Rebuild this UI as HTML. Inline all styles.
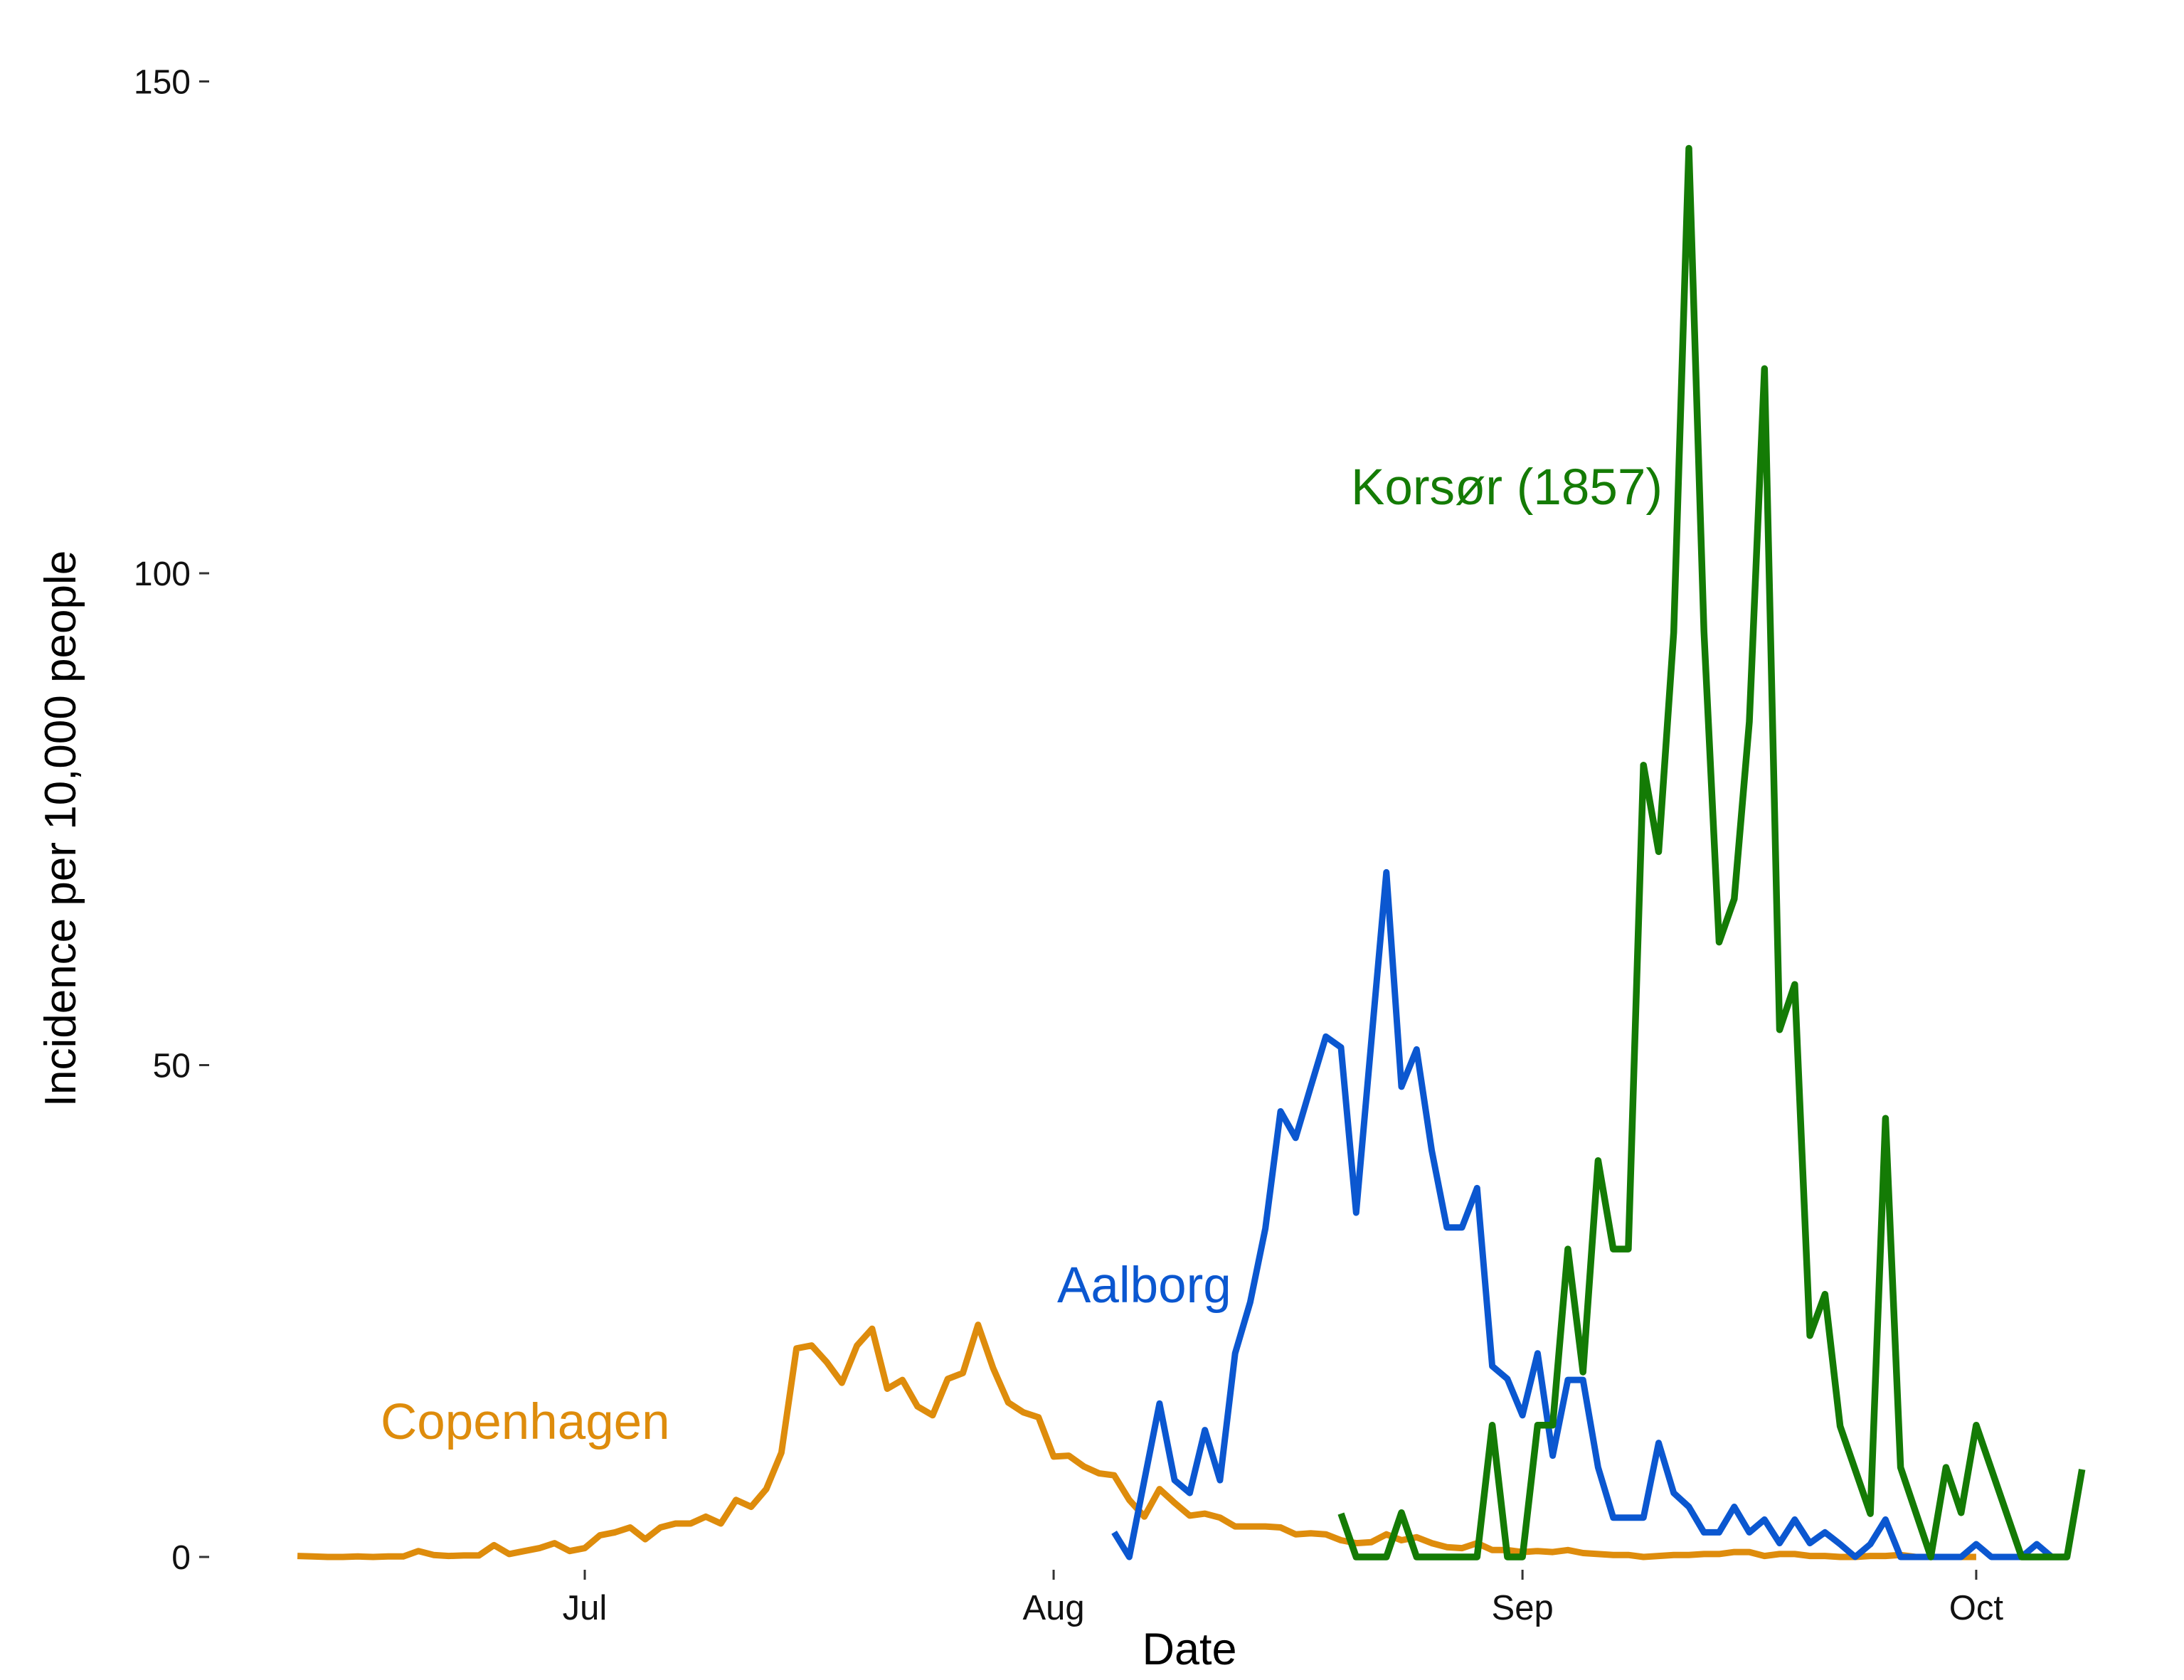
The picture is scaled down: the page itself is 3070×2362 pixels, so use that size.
<!DOCTYPE html>
<html><head><meta charset="utf-8"><style>
html,body{margin:0;padding:0;background:#fff}
svg{display:block}
text{font-family:"Liberation Sans",sans-serif}
</style></head><body>
<svg id="chart" width="3070" height="2362" viewBox="0 0 3070 2362" xmlns="http://www.w3.org/2000/svg">
<g id="axes"></g>
<g id="series"></g>
<text x="0" y="0" transform="translate(106,1165) rotate(-90)" text-anchor="middle" font-size="62" fill="#000">Incidence per 10,000 people</text>
<text x="1672" y="2340" text-anchor="middle" font-size="63" fill="#000">Date</text>
<text x="535" y="2023" font-size="71" fill="#DE8C0C">Copenhagen</text>
<text x="1486" y="1831" font-size="71" fill="#0B57D0">Aalborg</text>
<text x="1899" y="709" font-size="71" fill="#147B05">Korsør (1857)</text>
</svg>
<script>
// days relative to Jul 1
const cphStart = -19;
const cphValues = [0.1,0.05,0,0,0.05,0,0.05,0.05,0.6,0.2,0.1,0.15,0.15,1.2,0.3,0.6,0.9,1.4,0.6,0.9,
2.2,2.5,3.0,1.8,3.0,3.4,3.4,4.1,3.4,5.8,5.1,6.9,10.6,21.2,21.5,19.8,17.7,21.5,23.2,17.1,18.0,15.3,14.4,18.1,18.7,23.6,19.2,15.7,14.7,14.2,
10.2,10.3,9.2,8.5,8.3,5.8,4.1,6.9,5.5,4.2,4.4,4.0,3.1,3.1,3.1,3.0,2.3,2.4,2.3,1.7,1.4,1.5,2.3,1.7,2.0,1.4,1.0,0.9,1.4,0.7,0.7,
0.5,0.6,0.5,0.7,0.4,0.3,0.2,0.2,0,0.1,0.2,0.2,0.3,0.3,0.5,0.5,0.1,0.3,0.3,0.1,0.1,0,0,0.1,0.1,0.2,0,0,0,0,0];
const aalDays = [35,36,37,38,39,40,41,42,43,44,45,46,47,48,49,50,51,52,53,54,55,56,57,58,59,60,61,62,63,64,65,66,67,68,69,70,71,72,73,74,75,76,77,78,79,80,81,82,83,84,85,86,87,88,89,90,91,92,93,94,95,96,97];
const aalValues = [2.5,0,7.8,15.6,7.8,6.5,12.9,7.8,20.7,25.9,33.4,45.3,42.6,47.8,52.9,51.8,35,52.3,69.6,47.8,51.6,41.3,33.5,33.5,37.5,19.4,18.1,14.4,20.7,10.3,18,18,9.1,4,4,4,11.6,6.5,5.1,2.5,2.5,5.1,2.5,3.8,1.4,3.8,1.4,2.5,1.3,0,1.3,3.8,0,0,0,0,0,1.3,0,0,0,1.3,0];
const korDays = [50,51,52,53,54,55,56,57,58,59,60,61,62,63,64,65,66,67,68,69,70,71,72,73,74,75,76,77,78,79,80,81,82,83,85,86,87,89,90,91,92,95,96,97,98,99];
const korValues = [4.4,0,0,0,4.5,0,0,0,0,0,13.4,0,0,13.4,13.4,31.3,18.8,40.3,31.3,31.3,80.5,71.7,94,143.2,94.1,62.5,66.9,84.9,120.8,53.6,58.2,22.5,26.7,13.3,4.4,44.6,9.1,0,9.1,4.5,13.4,0,0,0,0,8.9];
const yTicks = [0,50,100,150];
const xTickDays = [0,31,62,92];
const xTickLabels = ["Jul","Aug","Sep","Oct"];

const NS = "http://www.w3.org/2000/svg";
const xs = d => 822 + d * 21.26;
const ys = v => 2189 - v * 13.83;
const axes = document.getElementById('axes');
const series = document.getElementById('series');
function mk(tag, attrs, parent){const e=document.createElementNS(NS,tag);for(const k in attrs)e.setAttribute(k,attrs[k]);parent.appendChild(e);return e;}

yTicks.forEach(v=>{
  const t = mk('line',{x1:280,x2:294,y1:ys(v),y2:ys(v),stroke:'#333','stroke-width':3},axes);
  
  
  const l = mk('text',{x:268,y:ys(v)+17,'text-anchor':'end','font-size':48,fill:'#111'},axes);
  l.textContent = v;
  
  
});
xTickDays.forEach((d,i)=>{
  const t = mk('line',{x1:xs(d),x2:xs(d),y1:2207,y2:2221,stroke:'#333','stroke-width':3},axes);
  
  
  const l = mk('text',{x:xs(d),y:2277,'text-anchor':'middle','font-size':49,fill:'#111'},axes);
  l.textContent = xTickLabels[i];
  
  
});

function drawLine(days, vals, color, name, w){
  const pts = days.map((d,i)=>xs(d).toFixed(1)+','+ys(vals[i]).toFixed(1)).join(' ');
  const p = mk('polyline',{points:pts,fill:'none',stroke:color,'stroke-width':w,'stroke-linejoin':'round','stroke-linecap':'butt'},series);
  
  
}
const cphDays = cphValues.map((v,i)=>cphStart+i);
drawLine(cphDays, cphValues, '#DE8C0C', 'copenhagen-line', 9);
drawLine(aalDays, aalValues, '#0B57D0', 'aalborg-line', 9);
drawLine(korDays, korValues, '#147B05', 'korsor-line', 9.5);
</script>
</body></html>
